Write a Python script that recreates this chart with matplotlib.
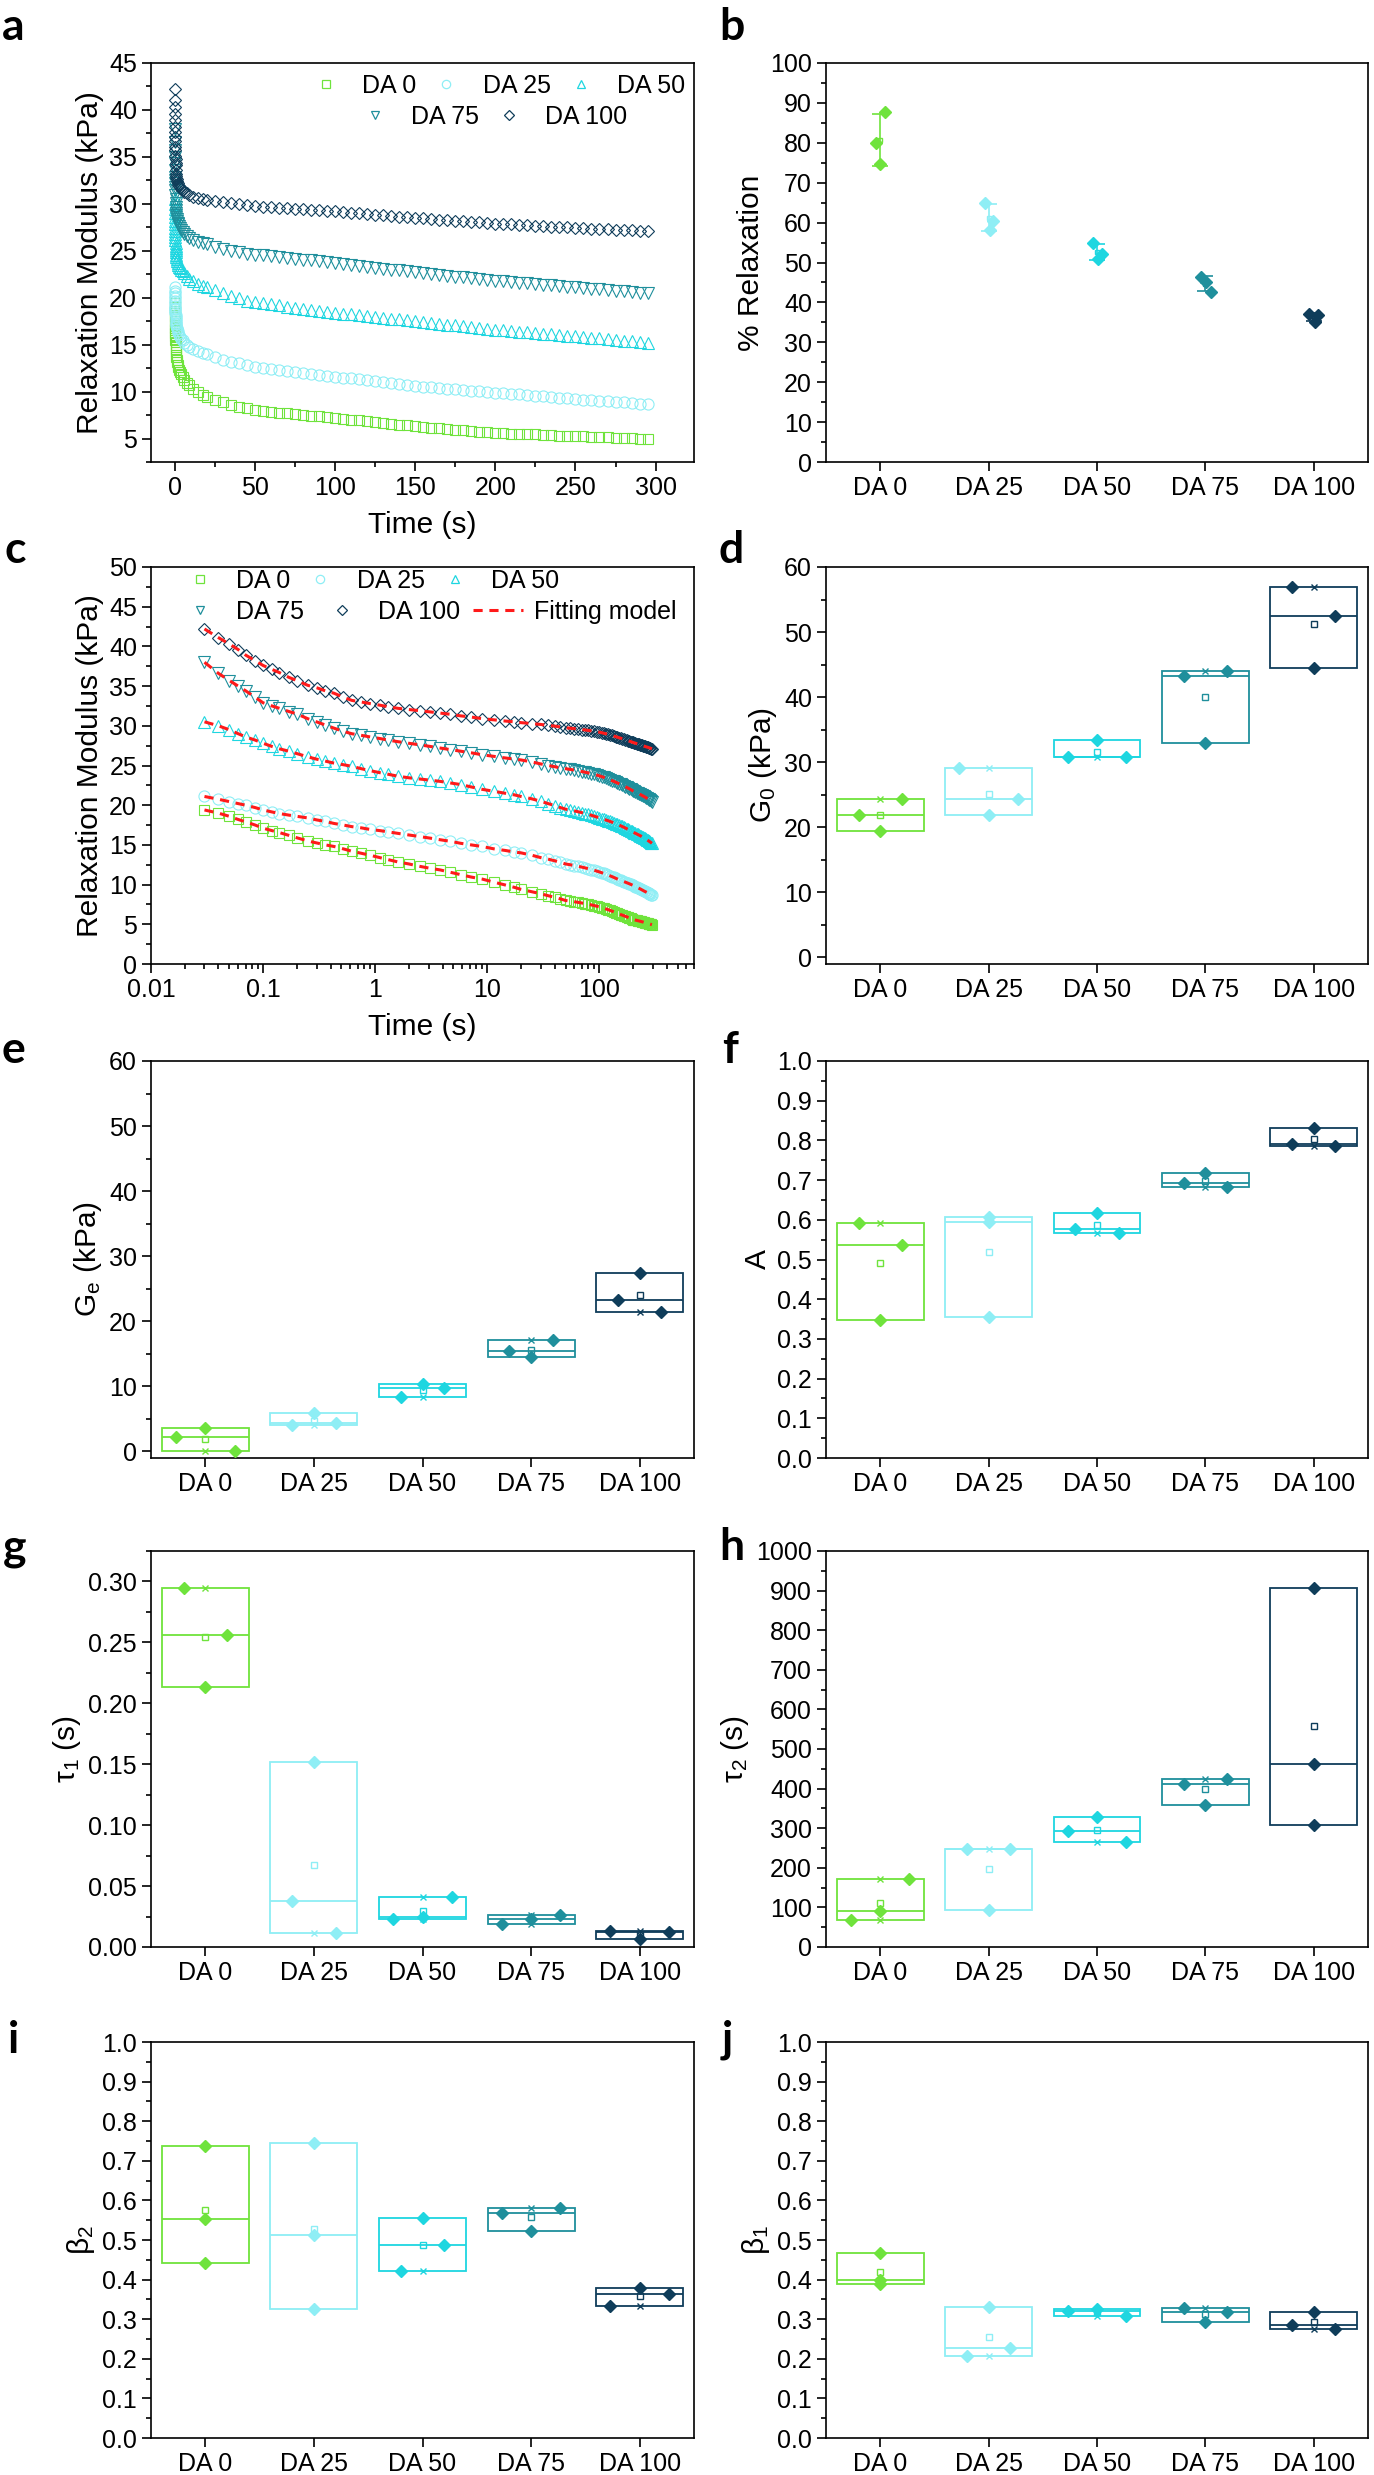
import numpy as np
import matplotlib
matplotlib.use("Agg")
import matplotlib.pyplot as plt
from matplotlib.lines import Line2D
from matplotlib.ticker import MultipleLocator, FormatStrFormatter, LogLocator, NullFormatter

plt.rcParams['font.family'] = ['Liberation Sans', 'DejaVu Sans']
plt.rcParams['mathtext.fontset'] = 'custom'
plt.rcParams['mathtext.rm'] = 'Liberation Sans'
plt.rcParams['mathtext.it'] = 'Liberation Sans:italic'
plt.rcParams['mathtext.default'] = 'regular'

groups = ['DA 0', 'DA 25', 'DA 50', 'DA 75', 'DA 100']
colors = ['#6FE33C', '#8EEEF5', '#1ED6E0', '#1F8F9C', '#0F3D5A']
markers = ['s', 'o', '^', 'v', 'D']
marker_sizes = [7.5, 8.0, 8.5, 8.5, 6.6]

time_s = [0.03, 0.04, 0.05, 0.06, 0.07, 0.085, 0.1, 0.12, 0.14, 0.17, 0.2, 0.25, 0.3, 0.36,
          0.43, 0.52, 0.62, 0.75, 0.9, 1.1, 1.3, 1.6, 2.0, 2.5, 3.1, 3.8, 4.7, 5.8, 7.2, 9.0,
          11.5, 14.5, 17.5,
          20, 25, 30, 35, 40, 45, 50, 55, 60, 65, 70, 75, 80, 85, 90, 95, 100, 105, 110, 115,
          120, 125, 130, 135, 140, 145, 150, 155, 160, 165, 170, 175, 180, 185, 190, 195, 200,
          205, 210, 215, 220, 225, 230, 235, 240, 245, 250, 255, 260, 265, 270, 275, 280, 285,
          290, 295]
g_da0 = [19.4, 19.0, 18.6, 18.2, 17.9, 17.5, 17.1, 16.8, 16.55, 16.2, 15.9, 15.5, 15.25, 15.0,
         14.8, 14.5, 14.2, 13.95, 13.7, 13.4, 13.15, 12.85, 12.6, 12.3, 12.05, 11.85, 11.55, 11.25,
         10.95, 10.7, 10.3, 9.95, 9.65,
         9.40, 9.10, 8.85, 8.60, 8.40, 8.20, 8.00, 7.92, 7.84, 7.76, 7.68, 7.60, 7.52, 7.44, 7.36,
         7.28, 7.20, 7.11, 7.02, 6.93, 6.84, 6.75, 6.66, 6.57, 6.48, 6.39, 6.30, 6.23, 6.16, 6.09,
         6.02, 5.95, 5.88, 5.81, 5.74, 5.67, 5.60, 5.57, 5.53, 5.50, 5.46, 5.43, 5.39, 5.36, 5.32,
         5.29, 5.25, 5.22, 5.18, 5.15, 5.12, 5.08, 5.05, 5.02, 4.98, 4.95]
g_da25 = [21.1, 20.75, 20.45, 20.2, 20.0, 19.7, 19.4, 19.15, 18.95, 18.75, 18.6, 18.4, 18.15, 17.95,
          17.7, 17.5, 17.3, 17.15, 16.95, 16.8, 16.65, 16.45, 16.25, 16.05, 15.85, 15.65, 15.45, 15.2,
          15.0, 14.8, 14.5, 14.3, 14.1,
          14.0, 13.7, 13.4, 13.2, 13.0, 12.8, 12.6, 12.50, 12.40, 12.30, 12.20, 12.10, 12.00, 11.90,
          11.80, 11.70, 11.60, 11.50, 11.40, 11.30, 11.20, 11.10, 11.00, 10.90, 10.80, 10.70, 10.60,
          10.53, 10.46, 10.39, 10.32, 10.25, 10.18, 10.11, 10.04, 9.97, 9.90, 9.83, 9.76, 9.69, 9.62,
          9.55, 9.48, 9.41, 9.34, 9.27, 9.20, 9.14, 9.08, 9.02, 8.96, 8.90, 8.84, 8.78, 8.72, 8.66]
g_da50 = [30.5, 30.0, 29.5, 29.0, 28.6, 28.2, 27.8, 27.4, 27.1, 26.8, 26.5, 26.1, 25.8, 25.55,
          25.3, 25.1, 24.9, 24.6, 24.35, 24.1, 23.9, 23.65, 23.45, 23.3, 23.15, 23.0, 22.8, 22.6,
          22.3, 22.0, 21.75, 21.5, 21.3,
          21.1, 20.8, 20.5, 20.2, 19.95, 19.7, 19.5, 19.39, 19.28, 19.17, 19.06, 18.95, 18.84, 18.73,
          18.62, 18.51, 18.40, 18.31, 18.22, 18.13, 18.04, 17.95, 17.86, 17.77, 17.68, 17.59, 17.50,
          17.41, 17.32, 17.23, 17.14, 17.05, 16.96, 16.87, 16.78, 16.69, 16.60, 16.53, 16.46, 16.39,
          16.32, 16.25, 16.18, 16.11, 16.04, 15.97, 15.90, 15.82, 15.74, 15.67, 15.59, 15.51, 15.43,
          15.36, 15.28, 15.20]
g_da75 = [38.0, 36.6, 35.7, 35.0, 34.4, 33.6, 32.9, 32.5, 32.2, 31.8, 31.5, 30.9, 30.5, 30.1,
          29.7, 29.3, 29.0, 28.8, 28.6, 28.4, 28.2, 28.0, 27.8, 27.6, 27.4, 27.2, 27.0, 26.8,
          26.6, 26.35, 26.15, 25.95, 25.8,
          25.7, 25.45, 25.2, 25.0, 24.85, 24.7, 24.6, 24.51, 24.42, 24.33, 24.24, 24.15, 24.06, 23.97,
          23.88, 23.79, 23.70, 23.60, 23.50, 23.40, 23.30, 23.20, 23.10, 23.00, 22.90, 22.80, 22.70,
          22.61, 22.52, 22.43, 22.34, 22.25, 22.16, 22.07, 21.98, 21.89, 21.80, 21.73, 21.66, 21.59,
          21.52, 21.45, 21.38, 21.31, 21.24, 21.17, 21.10, 21.03, 20.96, 20.88, 20.81, 20.74, 20.67,
          20.60, 20.52, 20.45]
g_da100 = [42.2, 41.1, 40.3, 39.6, 38.9, 38.2, 37.6, 37.1, 36.7, 36.1, 35.7, 35.1, 34.8, 34.4,
           34.1, 33.6, 33.2, 33.0, 32.8, 32.6, 32.4, 32.2, 32.05, 31.9, 31.75, 31.6, 31.45, 31.25,
           31.1, 30.9, 30.75, 30.6, 30.5,
           30.40, 30.28, 30.17, 30.06, 29.96, 29.85, 29.75, 29.70, 29.64, 29.58, 29.53, 29.47, 29.42,
           29.36, 29.31, 29.25, 29.20, 29.13, 29.06, 28.99, 28.92, 28.85, 28.78, 28.71, 28.64, 28.57,
           28.50, 28.44, 28.38, 28.32, 28.26, 28.20, 28.14, 28.08, 28.02, 27.96, 27.90, 27.85, 27.81,
           27.76, 27.72, 27.67, 27.63, 27.58, 27.54, 27.49, 27.45, 27.41, 27.37, 27.33, 27.30, 27.26,
           27.22, 27.18, 27.14, 27.10]
curves = [g_da0, g_da25, g_da50, g_da75, g_da100]

# % relaxation, three samples per group
pct_relax = [[87.6, 79.9, 74.6], [65.0, 60.5, 58.2], [54.8, 52.1, 50.8], [46.3, 45.2, 42.6], [37.0, 36.8, 35.1]]

# fitted parameters, three samples per group (left, centre, right point)
G0 = [[21.9, 19.5, 24.4], [29.1, 21.9, 24.3], [30.75, 33.35, 30.75], [43.2, 33.0, 44.0], [56.9, 44.5, 52.45]]
Ge = [[2.2, 3.6, 0.0], [4.0, 5.9, 4.35], [8.3, 10.35, 9.7], [15.4, 14.45, 17.15], [23.3, 27.5, 21.4]]
A = [[0.593, 0.347, 0.536], [0.608, 0.595, 0.354], [0.578, 0.618, 0.566], [0.693, 0.718, 0.683], [0.792, 0.830, 0.786]]
tau1 = [[0.2945, 0.213, 0.256], [0.0375, 0.152, 0.0115], [0.0232, 0.0246, 0.041], [0.0191, 0.0232, 0.0265], [0.0129, 0.0065, 0.012]]
tau2 = [[68.9, 89.9, 171.4], [247.9, 94.1, 247.9], [294.1, 329.4, 266.4], [411.8, 358.8, 424.4], [906.7, 461.3, 308.4]]
beta2 = [[0.737, 0.552, 0.441], [0.744, 0.513, 0.327], [0.422, 0.556, 0.487], [0.567, 0.523, 0.581], [0.334, 0.378, 0.363]]
beta1 = [[0.466, 0.399, 0.389], [0.206, 0.332, 0.227], [0.321, 0.325, 0.309], [0.329, 0.294, 0.318], [0.286, 0.319, 0.276]]

# horizontal spread of the points in each box (style only)
jitter_b = [[0.04, -0.04, 0.0], [-0.03, 0.04, 0.01], [-0.04, 0.05, 0.01], [-0.04, 0.01, 0.05], [-0.04, 0.04, 0.01]]
spread_d = [0.2, 0.27, 0.27, 0.2, 0.2]
spread_e = [0.27, 0.2, 0.2, 0.2, 0.2]
spread_f = [0.2, 0.0, 0.2, 0.2, 0.2]
spread_g = [0.2, 0.2, 0.27, 0.27, 0.27]
spread_h = [0.27, 0.2, 0.27, 0.2, 0.0]
spread_i = [0.0, 0.0, 0.2, 0.27, 0.27]
spread_j = [0.0, 0.2, 0.27, 0.2, 0.2]

W, H = 1374, 2475
fig = plt.figure(figsize=(W / 100, H / 100), dpi=100)

L_COL = (151, 694)
R_COL = (826, 1368)
ROWS = [(63, 462), (567, 964), (1061, 1458), (1551, 1947), (2042, 2438)]
TICK_FS = 18
LABEL_FS = 21.5


def make_axes(col, row):
    left, right = col
    top, bottom = row
    return fig.add_axes([left / W, 1 - bottom / H, (right - left) / W, (bottom - top) / H])


def style(ax):
    for sp in ax.spines.values():
        sp.set_linewidth(1.2)
    ax.tick_params(which='both', direction='out', top=False, right=False, width=1.2,
                   labelsize=TICK_FS, color='black')
    ax.tick_params(which='major', length=6.5)
    ax.tick_params(which='minor', length=3.5)


def letter(x, y, s):
    fig.text(x / W, 1 - y / H, s, fontsize=32, fontweight='bold',
             family=['Lato', 'DejaVu Sans'], va='baseline', ha='left')


def legend_handles():
    hs = []
    for c, m, ms in zip(colors, markers, marker_sizes):
        hs.append(Line2D([], [], ls='none', marker=m, mfc='none', mec=c, ms=ms * 0.75, mew=0.9))
    return hs


def draw_curves(ax):
    for g, c, m, ms in zip(curves, colors, markers, marker_sizes):
        ax.plot(time_s, g, ls='none', marker=m, mfc='none', mec=c, ms=ms, mew=0.8)


leg_kw = dict(frameon=False, handlelength=2, handletextpad=0.45, columnspacing=0.2,
              borderpad=0, borderaxespad=0, fontsize=TICK_FS, loc='upper left')

# ---- a: linear time
ax = make_axes(L_COL, ROWS[0])
style(ax)
draw_curves(ax)
ax.set_xlim(-15, 324)
ax.set_ylim(2.5, 45)
ax.xaxis.set_major_locator(MultipleLocator(50))
ax.xaxis.set_minor_locator(MultipleLocator(25))
ax.yaxis.set_major_locator(MultipleLocator(5))
ax.yaxis.set_minor_locator(MultipleLocator(2.5))
ax.set_xlabel('Time (s)', fontsize=LABEL_FS, labelpad=8)
ax.set_ylabel('Relaxation Modulus (kPa)', fontsize=LABEL_FS)
hs = legend_handles()
leg1 = ax.legend(hs[:3], groups[:3], ncol=3, bbox_to_anchor=(0.276, 0.972), **leg_kw)
ax.add_artist(leg1)
ax.legend(hs[3:], groups[3:], ncol=2, bbox_to_anchor=(0.366, 0.895), **leg_kw)

# ---- b: % relaxation
ax = make_axes(R_COL, ROWS[0])
style(ax)
for i, vals in enumerate(pct_relax):
    v = np.array(vals)
    ax.plot(i + np.array(jitter_b[i]), v, 'D', color=colors[i], ms=6.5, zorder=3)
    ax.errorbar(i, v.mean(), yerr=v.std(ddof=1), color=colors[i], capsize=6, elinewidth=1.2,
                capthick=1.2, fmt='s', mfc='none', ms=3.5, zorder=4)
ax.set_xlim(-0.5, 4.5)
ax.set_ylim(0, 100)
ax.set_xticks(range(5), groups)
ax.yaxis.set_major_locator(MultipleLocator(10))
ax.yaxis.set_minor_locator(MultipleLocator(5))
ax.set_ylabel('% Relaxation', fontsize=LABEL_FS)

# ---- c: log time with fitting model
ax = make_axes(L_COL, ROWS[1])
style(ax)
ax.set_xscale('log')
draw_curves(ax)
for g in curves:
    ax.plot(time_s, g, color='#FF1A1A', ls='--', lw=2.2, dashes=(3, 2.2), zorder=5)
ax.set_xlim(0.01, 700)
ax.set_ylim(0, 50)
ax.set_xticks([0.01, 0.1, 1, 10, 100], ['0.01', '0.1', '1', '10', '100'])
ax.xaxis.set_minor_locator(LogLocator(base=10, subs=np.arange(2, 10), numticks=20))
ax.xaxis.set_minor_formatter(NullFormatter())
ax.yaxis.set_major_locator(MultipleLocator(5))
ax.yaxis.set_minor_locator(MultipleLocator(2.5))
ax.set_xlabel('Time (s)', fontsize=LABEL_FS, labelpad=8)
ax.set_ylabel('Relaxation Modulus (kPa)', fontsize=LABEL_FS)
hs = legend_handles()
fit_h = Line2D([], [], color='#FF1A1A', ls='--', lw=2.2, dashes=(3, 2.2))
leg1 = ax.legend(hs[:3], groups[:3], ncol=3, bbox_to_anchor=(0.044, 0.995), **leg_kw)
ax.add_artist(leg1)
kw2 = dict(leg_kw)
kw2['columnspacing'] = 0.5
ax.legend(hs[3:] + [fit_h], groups[3:] + ['Fitting model'], ncol=3,
          bbox_to_anchor=(0.044, 0.917), **kw2)


def box_panel(col, row, data, spread, ylim, major, fmt, ylabel):
    ax = make_axes(col, row)
    style(ax)
    for i, vals in enumerate(data):
        v = np.array(vals)
        c = colors[i]
        ax.bar(i, v.max() - v.min(), bottom=v.min(), width=0.8, fill=False,
               edgecolor=c, linewidth=1.3, zorder=2)
        ax.hlines(np.median(v), i - 0.4, i + 0.4, color=c, lw=1.3, zorder=2)
        ax.plot([i, i], [v.min(), v.max()], ls='none', marker='x', color=c, ms=4.5, mew=1.0, zorder=3)
        ax.plot(i, v.mean(), ls='none', marker='s', mfc='none', mec=c, ms=3.8, mew=1.0, zorder=3)
        ax.plot(i + np.array([-spread[i], 0, spread[i]]), v, ls='none', marker='D',
                color=c, ms=6.5, zorder=4)
    ax.set_xlim(-0.5, 4.5)
    ax.set_ylim(*ylim)
    ax.set_xticks(range(5), groups)
    ax.yaxis.set_major_locator(MultipleLocator(major))
    ax.yaxis.set_minor_locator(MultipleLocator(major / 2))
    if fmt:
        ax.yaxis.set_major_formatter(FormatStrFormatter(fmt))
    ax.set_ylabel(ylabel, fontsize=LABEL_FS)
    return ax


box_panel(R_COL, ROWS[1], G0, spread_d, (-1, 60), 10, None, 'G$_0$ (kPa)')
box_panel(L_COL, ROWS[2], Ge, spread_e, (-1, 60), 10, None, 'G$_e$ (kPa)')
box_panel(R_COL, ROWS[2], A, spread_f, (0, 1.0), 0.1, '%.1f', 'A')
box_panel(L_COL, ROWS[3], tau1, spread_g, (0, 0.325), 0.05, '%.2f', 'τ$_1$ (s)')
box_panel(R_COL, ROWS[3], tau2, spread_h, (0, 1000), 100, None, 'τ$_2$ (s)')
box_panel(L_COL, ROWS[4], beta2, spread_i, (0, 1.0), 0.1, '%.1f', 'β$_2$')
box_panel(R_COL, ROWS[4], beta1, spread_j, (0, 1.0), 0.1, '%.1f', 'β$_1$')

for s, x, y in [('a', 2, 40), ('b', 719, 40), ('c', 4, 563), ('d', 719, 563),
                ('e', 2, 1063), ('f', 722, 1063), ('g', 3, 1560), ('h', 719, 1560),
                ('i', 8, 2053), ('j', 722, 2053)]:
    letter(x, y, s)

fig.savefig('out.png', dpi=100)
